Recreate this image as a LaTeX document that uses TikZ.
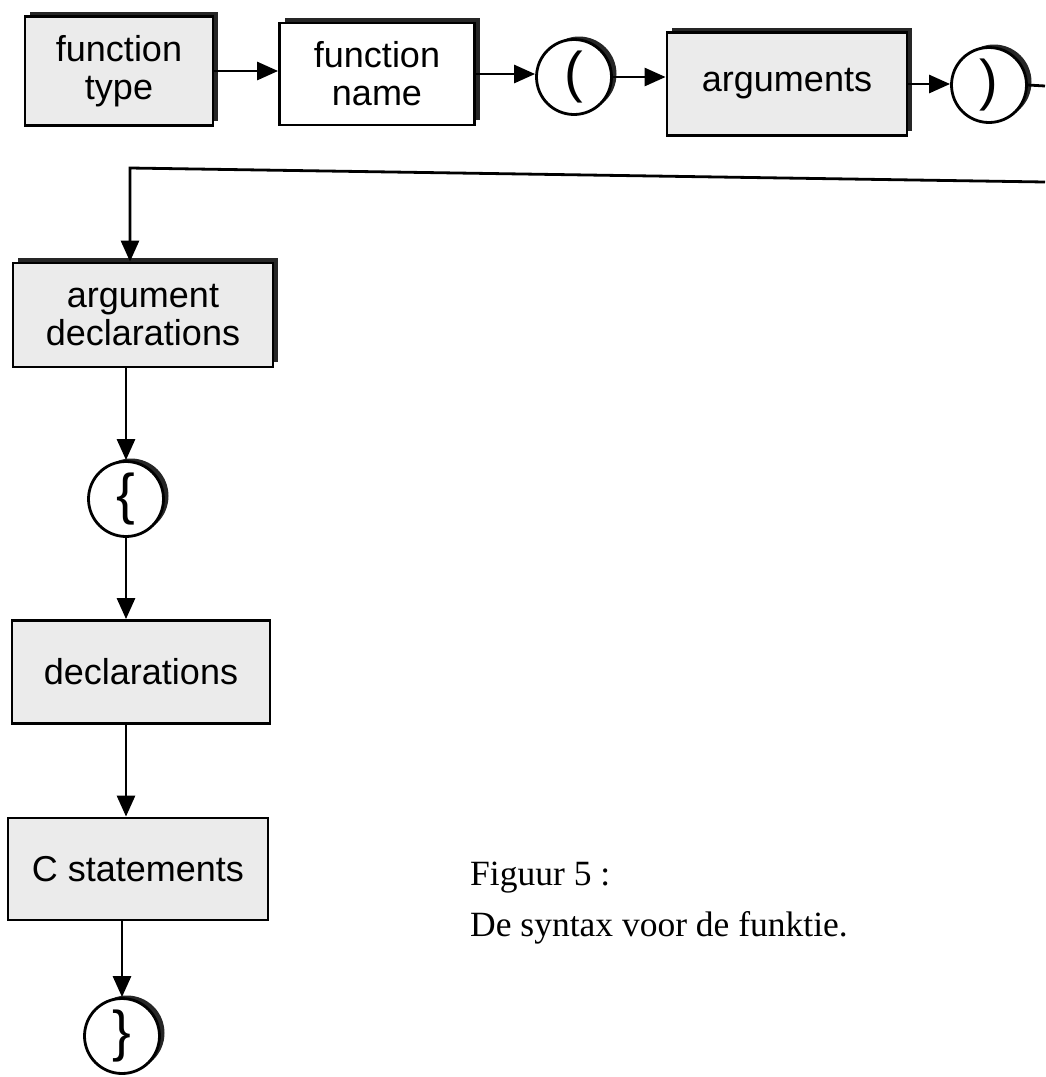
\documentclass[tikz,border=0pt]{standalone}
\usepackage{fontspec}
\setmainfont{Liberation Serif}
\newfontfamily\boxfont{Liberation Sans}
\usetikzlibrary{arrows.meta,shadows}

\begin{document}
\begin{tikzpicture}[x=1pt,y=-1pt,
  every node/.style={inner sep=0pt},
  synbox/.style={draw, line width=2.8pt, fill=black!8, align=center,
    font=\boxfont\fontsize{36}{38}\selectfont},
  plainbox/.style={synbox, fill=white},
  raised/.style={drop shadow={shadow xshift=5pt, shadow yshift=5pt,
    fill=black!85, opacity=1}},
  token/.style={draw, circle, line width=2.8pt, fill=white, minimum size=75pt,
    font=\boxfont\fontsize{56}{56}\selectfont,
    drop shadow={shadow xshift=5pt, shadow yshift=3pt, fill=black!85, opacity=1}},
  flow/.style={line width=2.8pt, -{Triangle[length=21pt,width=18pt]}},
  wire/.style={line width=2.8pt},
  caption/.style={anchor=base west, font=\fontsize{35.5}{40}\selectfont}]

\useasboundingbox (0,0) rectangle (1045,1077);

% top row: function header
\node[synbox, raised, minimum width=188pt, minimum height=109pt] (ftype) at (119,71) {function\\type};
\node[plainbox, raised, minimum width=195pt, minimum height=102pt] (fname) at (377,74) {function\\name};
\node[token] (lpar) at (574,77) {(};
\node[synbox, raised, minimum width=240pt, minimum height=103pt] (args) at (787,84) {arguments};
\node[token] (rpar) at (989,85) {)};

% the line leaves at the right and comes back on the next row
\coordinate (outR) at (1045,86);
\coordinate (inR) at (1045,182);
\coordinate (bend) at (130,168);

% left column: function body
\node[synbox, raised, minimum width=260pt, minimum height=104pt] (argdecl) at (143,315) {argument\\declarations};
\node[token] (lbrace) at (126,499) {\{};
\node[synbox, minimum width=258pt, minimum height=103pt] (decl) at (141,672) {declarations};
\node[synbox, minimum width=260pt, minimum height=102pt] (cstat) at (138,869) {C statements};
\node[token] (rbrace) at (122,1036) {\}};

% connectors
\draw[flow] (ftype.east) -- (ftype.east -| fname.west);
\draw[flow] (fname.east) -- (fname.east -| lpar.west);
\draw[flow] (lpar.east) -- (lpar.east -| args.west);
\draw[flow] (args.east) -- (args.east -| rpar.west);
\draw[wire] (rpar.east) -- (outR);
\draw[flow] (inR) -- (bend) -- (bend |- argdecl.north);
\draw[flow] (lbrace |- argdecl.south) -- (lbrace.north);
\draw[flow] (lbrace.south) -- (lbrace.south |- decl.north);
\draw[flow] (lbrace |- decl.south) -- (lbrace |- cstat.north);
\draw[flow] (rbrace |- cstat.south) -- (rbrace.north);

% caption
\node[caption] (cap1) at (470,885) {Figuur 5 :};
\node[caption] (cap2) at (470,936) {De syntax voor de funktie.};
\end{tikzpicture}
\end{document}
